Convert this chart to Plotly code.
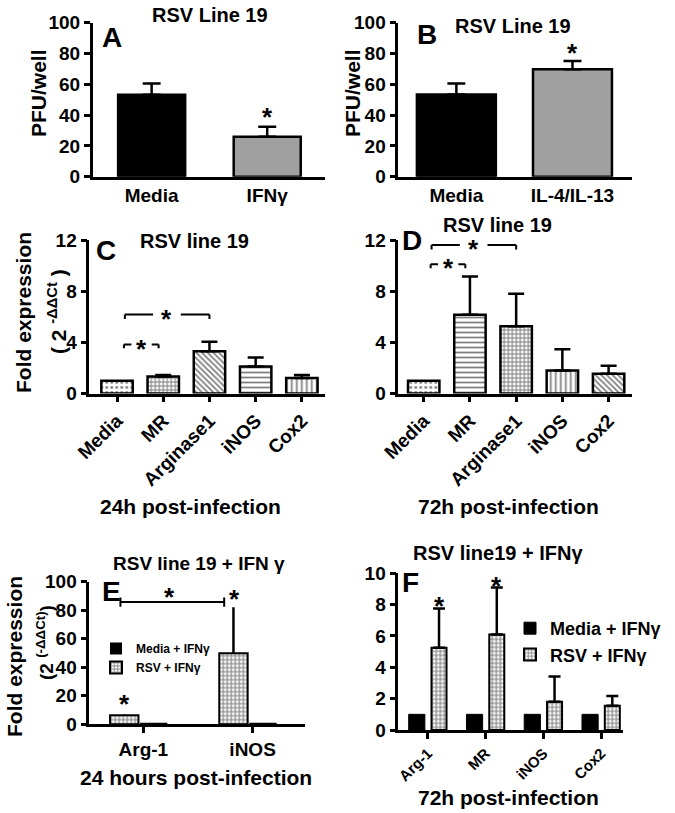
import plotly.graph_objects as go

# ---------------- data ----------------
a_categories = ["Media", "IFNγ"]
a_values = [53.2, 26.0]
a_err = [7.4, 6.5]

b_categories = ["Media", "IL-4/IL-13"]
b_values = [53.3, 69.7]
b_err = [7.3, 5.4]

c_categories = ["Media", "MR", "Arginase1", "iNOS", "Cox2"]
c_values = [1.0, 1.33, 3.3, 2.12, 1.21]
c_err = [0.0, 0.12, 0.74, 0.7, 0.24]

d_categories = ["Media", "MR", "Arginase1", "iNOS", "Cox2"]
d_values = [1.0, 6.15, 5.25, 1.8, 1.55]
d_err = [0.0, 3.0, 2.55, 1.65, 0.62]

e_categories = ["Arg-1", "iNOS"]
e_media = [1.0, 1.0]
e_rsv = [6.3, 49.8]
e_rsv_err = [0.6, 32.2]

f_categories = ["Arg-1", "MR", "iNOS", "Cox2"]
f_media = [1.0, 1.0, 1.0, 1.0]
f_rsv = [5.25, 6.1, 1.8, 1.55]
f_rsv_err = [2.5, 3.0, 1.62, 0.62]

W, H = 675, 813
FONT = "Liberation Sans, Arial, sans-serif"


def px(x):
    return x / W


def py(y):
    return 1 - y / H


LW = 2.5
pat = {
    "dot": dict(shape=".", size=5, solidity=0.25, fgcolor="black", bgcolor="white"),
    "check": dict(shape="+", size=4, solidity=0.5, fgcolor="black", bgcolor="white"),
    "diag": dict(shape="\\", size=4, solidity=0.45, fgcolor="black", bgcolor="white"),
    "hor": dict(shape="-", size=5, solidity=0.35, fgcolor="black", bgcolor="white"),
    "ver": dict(shape="|", size=5, solidity=0.35, fgcolor="black", bgcolor="white"),
}


def err(arr, w=8):
    return dict(type="data", symmetric=False, array=arr, arrayminus=[0] * len(arr),
                color="black", thickness=LW, width=w, visible=True)


fig = go.Figure()

# Panel A
fig.add_trace(go.Bar(x=a_categories, y=a_values, width=0.58,
                     marker=dict(color=["black", "#a0a0a0"], line=dict(color="black", width=LW)),
                     error_y=err(a_err, 9), xaxis="x", yaxis="y", showlegend=False))
# Panel B
fig.add_trace(go.Bar(x=b_categories, y=b_values, width=0.68,
                     marker=dict(color=["black", "#a0a0a0"], line=dict(color="black", width=LW)),
                     error_y=err(b_err, 9), xaxis="x2", yaxis="y2", showlegend=False))
# Panel C
c_pats = ["dot", "check", "diag", "hor", "ver"]
for i, cat in enumerate(c_categories):
    fig.add_trace(go.Bar(x=[cat], y=[c_values[i]], width=0.68,
                         marker=dict(color="white", line=dict(color="black", width=LW),
                                     pattern=pat[c_pats[i]]),
                         error_y=err([c_err[i]], 8) if c_err[i] > 0 else None,
                         xaxis="x3", yaxis="y3", showlegend=False))
# Panel D
d_pats = ["dot", "hor", "check", "ver", "diag"]
for i, cat in enumerate(d_categories):
    fig.add_trace(go.Bar(x=[cat], y=[d_values[i]], width=0.68,
                         marker=dict(color="white", line=dict(color="black", width=LW),
                                     pattern=pat[d_pats[i]]),
                         error_y=err([d_err[i]], 8) if d_err[i] > 0 else None,
                         xaxis="x4", yaxis="y4", showlegend=False))
# Panel E
fig.add_trace(go.Bar(x=e_categories, y=e_media, width=0.25, offset=-0.03, name="Media + IFNγ",
                     marker=dict(color="black", line=dict(color="black", width=0)),
                     xaxis="x5", yaxis="y5", legend="legend"))
fig.add_trace(go.Bar(x=e_categories, y=e_rsv, width=0.26, offset=-0.305, name="RSV + IFNγ",
                     marker=dict(color="white", line=dict(color="black", width=2),
                                 pattern=pat["check"]),
                     error_y=err(e_rsv_err, 0), xaxis="x5", yaxis="y5", legend="legend"))
# Panel F
fig.add_trace(go.Bar(x=f_categories, y=f_media, width=0.28, offset=-0.33, name="Media + IFNγ",
                     marker=dict(color="black", line=dict(color="black", width=1)),
                     xaxis="x6", yaxis="y6", legend="legend2"))
fig.add_trace(go.Bar(x=f_categories, y=f_rsv, width=0.26, offset=0.065, name="RSV + IFNγ",
                     marker=dict(color="white", line=dict(color="black", width=2),
                                 pattern=pat["check"]),
                     error_y=err(f_rsv_err, 6), xaxis="x6", yaxis="y6", legend="legend2"))

# ------------- axes -------------
tickfont = dict(family=FONT, size=19, color="black", weight="bold")


def yax(dom_px, rng, dtick, anchor):
    return dict(domain=[py(dom_px[0]), py(dom_px[1])], range=rng, dtick=dtick,
                showline=True, linecolor="black", linewidth=LW, ticks="outside",
                ticklen=6, tickwidth=LW, tickcolor="black", showgrid=False,
                zeroline=False, tickfont=tickfont, anchor=anchor, fixedrange=True,
                automargin=False)


def xax(dom_px, rng, anchor, ticks="", angle=0, size=19):
    return dict(domain=[px(dom_px[0]), px(dom_px[1])], range=rng, type="category",
                showline=True, linecolor="black", linewidth=LW, ticks=ticks,
                ticklen=6, tickwidth=LW, tickcolor="black", showgrid=False,
                zeroline=False, tickangle=angle,
                tickfont=dict(family=FONT, size=size, color="black", weight="bold"),
                anchor=anchor, fixedrange=True, automargin=False)


layout = dict(
    width=W, height=H, autosize=False,
    margin=dict(l=0, r=0, t=0, b=0, pad=0, autoexpand=False),
    paper_bgcolor="white", plot_bgcolor="white",
    font=dict(family=FONT, color="black", size=18, weight="bold"),
    barmode="overlay",
    xaxis=xax([92.7, 325], [-0.51, 1.5], "y"),
    yaxis=yax([176.7, 22.7], [0, 100], 20, "x"),
    xaxis2=xax([398.3, 631.7], [-0.5, 1.51], "y2"),
    yaxis2=yax([176.7, 22.7], [0, 100], 20, "x2"),
    xaxis3=xax([89.3, 325], [-0.6, 4.5], "y3", ticks="outside", angle=-45),
    yaxis3=yax([393.5, 240], [0, 12], 4, "x3"),
    xaxis4=xax([398.3, 631.7], [-0.55, 4.5], "y4", ticks="outside", angle=-45),
    yaxis4=yax([393.5, 240], [0, 12], 4, "x4"),
    xaxis5=xax([89.3, 305], [-0.495, 1.48], "y5", ticks="outside"),
    yaxis5=yax([724.3, 581.7], [0, 100], 20, "x5"),
    xaxis6=xax([398.3, 623], [-0.51, 3.38], "y6", ticks="outside", angle=-45, size=15),
    yaxis6=yax([730, 573.3], [0, 10], 2, "x6"),
    legend=dict(x=px(96), y=py(634), xanchor="left", yanchor="top",
                bgcolor="rgba(0,0,0,0)", font=dict(family=FONT, size=12, weight="bold"),
                tracegroupgap=0, itemwidth=30),
    legend2=dict(x=px(510), y=py(610), xanchor="left", yanchor="top",
                 bgcolor="rgba(0,0,0,0)", font=dict(family=FONT, size=18, weight="bold"),
                 tracegroupgap=0, itemwidth=30),
)
fig.update_layout(**layout)

ann = []


def label(x, y, text, size=18, angle=0):
    ann.append(dict(xref="paper", yref="paper", x=px(x), y=py(y), text=text,
                    showarrow=False, xanchor="center", yanchor="middle", textangle=angle,
                    font=dict(family=FONT, size=size, color="black", weight="bold")))


# titles
label(210, 15, "RSV Line 19", 20)
label(513, 26, "RSV Line 19", 20)
label(194, 241, "RSV line 19", 20)
label(497, 225, "RSV line 19", 20)
label(199, 563, "RSV line 19 + IFN γ", 19)
label(498, 553, "RSV line19 + IFNγ", 20)
# panel letters
label(112, 37, "A", 28)
label(427, 35, "B", 28)
label(106, 250, "C", 28)
label(412, 241, "D", 28)
label(111, 591, "E", 28)
label(410, 582, "F", 28)
# y titles
label(38, 93, "PFU/well", 21, -90)
label(352, 93, "PFU/well", 21, -90)
label(23, 313, "Fold expression", 21, -90)
label(57, 312, "( 2 <sup>-ΔΔCt</sup> )", 21, -90)
label(14, 657, "Fold expression", 21, -90)
label(45, 643, "(2 <sup>(-ΔΔCt)</sup>)", 19, -90)
# x titles
label(190, 506, "24h post-infection", 21)
label(508, 506, "72h post-infection", 21)
label(196, 777, "24 hours post-infection", 21)
label(508, 797, "72h post-infection", 21)


def star(xref, yref, x, y, size=26):
    ann.append(dict(xref=xref, yref=yref, x=x, y=y, text="*", showarrow=False,
                    xanchor="center", yanchor="middle",
                    font=dict(family=FONT, size=size, color="black", weight="bold")))


star("x", "y", 1, 39)
star("x2", "y2", 1, 80)
star("x3", "y3", 1.08, 5.85)
star("x3", "y3", 0.53, 3.5)
star("x4", "y4", 1.08, 11.3)
star("x4", "y4", 0.53, 9.8)
star("x5", "y5", -0.175, 14)
star("x5", "y5", 0.24, 89)
star("x5", "y5", 0.83, 88)
star("x6", "y6", 0.195, 7.9)
star("x6", "y6", 1.195, 9.2)

fig.update_layout(annotations=ann)

shapes = []


def seg(xr, yr, x0, y0, x1, y1, dash="solid", w=2):
    shapes.append(dict(type="line", xref=xr, yref=yr, x0=x0, y0=y0, x1=x1, y1=y1,
                       line=dict(color="black", width=w, dash=dash)))


def bracket(xr, yr, x0, x1, y, xm, gap, drop, dash="solid"):
    seg(xr, yr, x0, y, xm - gap, y, dash)
    seg(xr, yr, xm + gap, y, x1, y, dash)
    seg(xr, yr, x0, y, x0, y - drop, dash)
    seg(xr, yr, x1, y, x1, y - drop, dash)


bracket("x3", "y3", 0.17, 2.0, 6.17, 1.08, 0.3, 0.35)
bracket("x3", "y3", 0.15, 0.9, 3.83, 0.53, 0.22, 0.3)
bracket("x4", "y4", 0.17, 2.0, 11.6, 1.08, 0.3, 0.35)
bracket("x4", "y4", 0.15, 0.9, 10.1, 0.53, 0.22, 0.3)
# panel E bracket |----|
seg("x5", "y5", -0.21, 85.7, 0.74, 85.7)
seg("x5", "y5", -0.21, 82.5, -0.21, 89)
seg("x5", "y5", 0.74, 82.5, 0.74, 89)

fig.update_layout(shapes=shapes)

fig.write_html("out.html", config={"displayModeBar": False},
               post_script="document.body.style.margin='0px';")
